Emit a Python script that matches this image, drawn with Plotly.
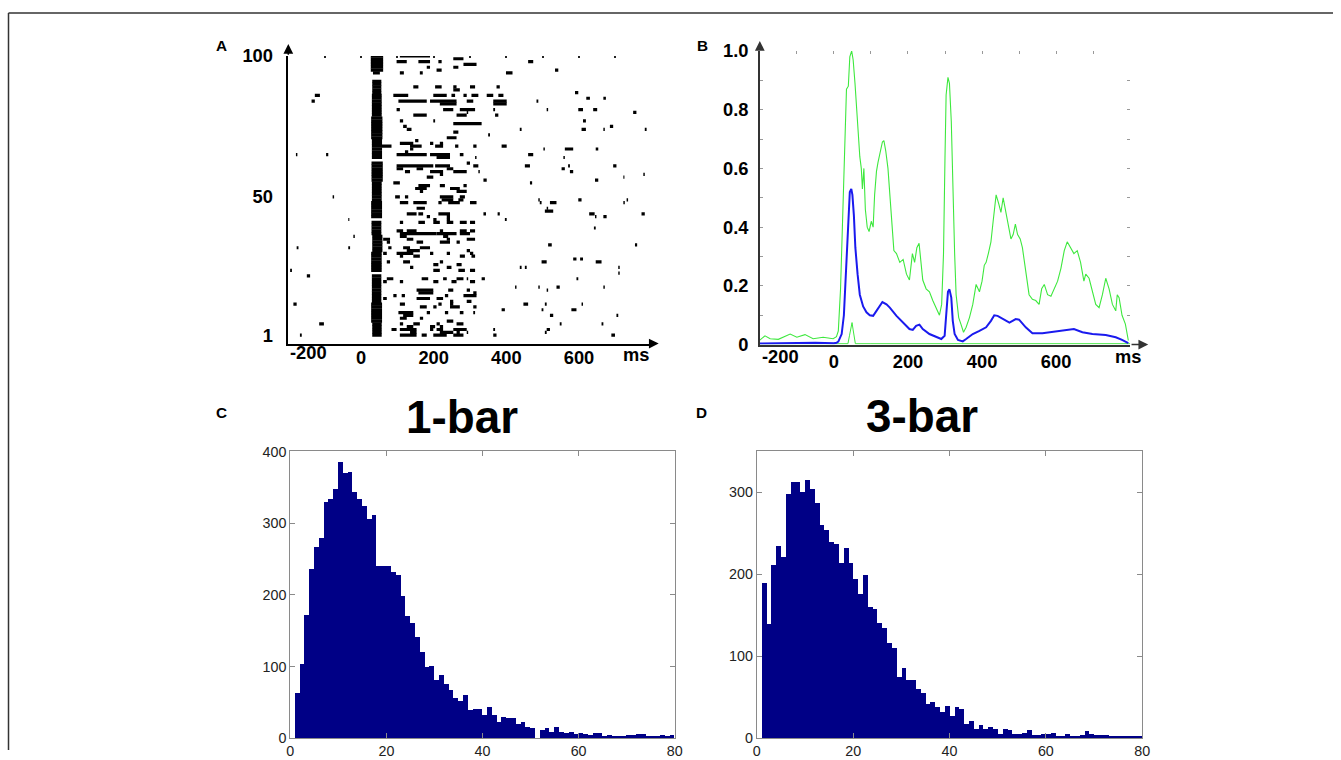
import plotly.graph_objects as go

# Figure size; the capture of the page is slightly offset/scaled, so positions below
# are written in target-picture pixels and converted with a small calibration.
W, H = 1341, 760
SX, OX = 0.990, 5.0
SY, OY = 0.9735, 9.0
FS = 1 / 0.982
def px(x):
    return ((x - OX) / SX) / W
def py(y):
    return 1 - ((y - OY) / SY) / H

# ---------------- Panel A: raster (trial, start ms, end ms) ----------------
early_blocks = [  # (first trial, last trial, start ms, end ms) of the dense early burst column
    (1, 5, 31, 57), (6, 12, 28, 58), (13, 22, 30, 56), (24, 30, 28, 57), (31, 36, 31, 59),
    (37, 41, 29, 56), (43, 48, 28, 58), (49, 55, 30, 57), (56, 62, 29, 60), (64, 70, 30, 58),
    (71, 78, 28, 59), (79, 86, 30, 57), (87, 91, 31, 56), (94, 94, 33, 52), (95, 100, 27, 61),
]
raster_segments = [
    (100, 107, 190), (99, 254, 282), (98, 98, 126), (98, 158, 190), (97, 282, 318), (98, 460, 474),
    (95, 534, 543), (96, 181, 190), (96, 254, 268), (94, 107, 118), (94, 399, 417), (95, 208, 222),
    (94, 162, 170), (98, 213, 222),
    (89, 144, 158), (89, 204, 222), (89, 254, 263), (89, 300, 314), (89, 373, 382),
    (88, 254, 272), (87, 589, 598),
    (86, 89, 130), (86, 199, 236), (86, 249, 259), (86, 282, 291), (86, 304, 323), (86, 346, 364),
    (86, 378, 392), (86, -127, -113),
    (85, 620, 630), (85, 667, 674),
    (84, -136, -127), (84, 103, 181), (84, 190, 263), (84, 291, 309), (84, 364, 401), (84, 483, 488),
    (83, 217, 263), (83, 364, 401),
    (81, 98, 107), (81, 226, 254), (81, 272, 314), (81, 364, 369), (81, 511, 515), (81, 598, 611),
    (81, 639, 650),
    (80, 749, 758), (80, 291, 295),
    (79, 144, 181), (79, 263, 291), (79, 369, 378),
    (77, 107, 116), (77, 199, 204), (77, 611, 619),
    (76, 254, 332),
    (75, 116, 126), (75, 685, 694),
    (74, 126, 139), (74, 437, 442), (74, 607, 619), (74, 667, 671), (74, 781, 786),
    (73, 254, 268), (72, 350, 355), (71, 236, 263), (70, 149, 158),
    (69, 107, 144), (69, 190, 199), (69, 217, 226),
    (68, 57, 84), (68, 135, 167), (68, 204, 226), (68, 259, 268), (68, 309, 318), (68, 387, 401),
    (67, 135, 144), (67, 502, 506), (67, 561, 584), (67, 646, 653),
    (66, 121, 130),
    (65, 98, 181), (65, 190, 245), (65, 272, 282), (65, -179, -175), (65, -96, -90), (65, 460, 474),
    (64, 208, 245), (64, 314, 318), (64, 557, 561),
    (62, 291, 300),
    (61, 98, 199), (61, 204, 245), (61, 309, 323), (61, 451, 465), (61, 570, 575), (61, 694, 703),
    (60, 98, 116), (60, 153, 171), (60, 236, 254), (60, 552, 561),
    (59, 121, 135), (59, 190, 226), (59, 254, 291), (59, 323, 327), (59, 575, 584),
    (58, 217, 226), (58, 777, 781),
    (57, 181, 199), (57, 722, 725),
    (56, 337, 346), (56, 644, 653),
    (55, 465, 471), (55, 89, 107),
    (54, 158, 190), (54, 217, 231), (54, 282, 291),
    (53, 149, 181), (53, 245, 272),
    (52, 162, 171), (52, 263, 291),
    (50, 94, 107), (50, 121, 130), (50, 217, 254), (50, 272, 286), (50, -78, -74),
    (49, 222, 254), (49, 268, 282), (49, 488, 492), (49, 598, 607), (49, 731, 735),
    (48, 107, 130), (48, 144, 181), (48, 213, 222), (48, 240, 272), (48, 300, 318), (48, 492, 497),
    (48, 520, 538), (48, 722, 726),
    (46, 153, 176), (46, 511, 515),
    (45, 506, 529),
    (44, 126, 153), (44, 158, 171), (44, 213, 245), (44, 337, 344), (44, 376, 382), (44, 628, 643),
    (44, 772, 781),
    (43, 644, 648), (43, 667, 676), (43, 181, 190), (43, 236, 245),
    (42, 199, 208), (42, 236, 245), (42, -35, -32), (42, 396, 401),
    (41, 107, 116), (41, 158, 176), (41, 199, 217), (41, 236, 254), (41, 272, 291), (41, 300, 314),
    (39, 641, 646),
    (38, 98, 116), (38, 126, 153), (38, 217, 226), (38, 272, 291), (38, 300, 314),
    (37, 107, 208), (37, 208, 263), (37, 272, 300),
    (36, -21, -17), (36, 107, 126), (36, 226, 240),
    (35, 61, 80), (35, 126, 144), (35, 236, 245), (35, 291, 314),
    (34, 71, 80), (34, 153, 171), (34, 217, 245), (34, 263, 272),
    (33, 515, 525), (33, 754, 760),
    (32, 75, 84), (32, 116, 135), (32, 162, 190), (32, -177, -172), (32, -35, -30),
    (31, 126, 162), (31, 291, 300),
    (30, 61, 71), (30, 98, 144), (30, 190, 199), (30, 236, 245), (30, 300, 309),
    (29, 107, 116), (29, 144, 162), (29, 272, 286), (29, 304, 314),
    (28, 584, 593), (28, 603, 611),
    (27, 71, 80), (27, 116, 135), (27, 217, 226), (27, 497, 511), (27, 646, 662),
    (26, 199, 213), (26, 263, 277),
    (25, 135, 144), (25, 236, 249), (25, 451, 456), (25, 437, 442), (25, 708, 712),
    (24, -195, -190), (24, 268, 286), (24, 300, 314), (24, 199, 217),
    (23, 708, 712), (22, -149, -140),
    (21, 71, 89), (21, 167, 185), (21, 226, 236), (21, 263, 282), (21, 332, 341), (21, 291, 295),
    (21, 593, 598),
    (20, 61, 71), (20, 107, 116), (20, 199, 213), (20, 249, 263), (20, 300, 314),
    (18, 424, 428), (18, 488, 492), (18, 538, 547), (18, 667, 671),
    (17, 153, 199), (17, 240, 254), (17, 291, 300), (17, 511, 515),
    (16, 158, 199), (16, 309, 318),
    (15, 89, 98), (15, 112, 121), (15, 231, 240), (15, 282, 318),
    (14, 61, 71), (14, 153, 190), (14, 208, 226),
    (13, 245, 254), (13, 291, 304),
    (12, -186, -177), (12, 107, 121), (12, 213, 222), (12, 245, 254), (12, 447, 460), (12, 506, 511),
    (12, 607, 611),
    (11, 162, 181), (11, 199, 208), (11, 245, 272), (11, 309, 318),
    (10, 387, 396), (10, 497, 502), (10, 579, 593),
    (9, 103, 144), (9, 181, 190), (9, 231, 240), (9, 272, 282), (9, 309, 314),
    (8, 116, 144), (8, 520, 529), (8, 703, 708),
    (7, 107, 126), (7, 162, 171),
    (6, 236, 254),
    (5, -115, -102), (5, 107, 116), (5, 144, 162), (5, 208, 217), (5, 263, 282), (5, 547, 552),
    (5, 662, 667),
    (4, 126, 144), (4, 190, 204), (4, 217, 226),
    (3, 84, 98), (3, 107, 153), (3, 190, 199), (3, 208, 226), (3, 254, 291), (3, 364, 369),
    (3, 511, 520),
    (2, 135, 153), (2, 217, 254), (2, 263, 272), (2, 291, 295), (2, 506, 511),
    (1, 107, 153), (1, 167, 181), (1, 199, 236), (1, 254, 282), (1, -168, -163), (1, 689, 699),
    (1, 364, 373),
]
a_yticks = [1, 50, 100]
a_xticks = [0, 200, 400, 600]
top_ticks_ms = [-100, 0, 100, 200, 300, 400, 500, 600, 700]

# ---------------- Panel B: response curves ----------------
blue_t = [-200, -150, -100, -50, 0, 7, 12, 21, 27, 32, 39, 43, 47, 50, 54, 58, 64, 70, 79, 88,
          97, 106, 115, 124, 131, 142, 151, 169, 187, 204, 213, 222, 231, 240, 258, 276, 290, 299,
          303, 308, 312, 317, 321, 326, 335, 348, 357, 375, 393, 411, 424, 433, 442, 456, 474, 491,
          500, 518, 536, 563, 599, 626, 648, 671, 698, 734, 761, 778, 795]
blue_v = [0.004, 0.005, 0.004, 0.006, 0.005, 0.006, 0.01, 0.036, 0.10, 0.22, 0.40, 0.52, 0.53, 0.51,
          0.44, 0.33, 0.24, 0.17, 0.13, 0.11, 0.10, 0.098, 0.115, 0.13, 0.145, 0.137, 0.126, 0.098,
          0.075, 0.053, 0.05, 0.064, 0.068, 0.053, 0.036, 0.025, 0.019, 0.03, 0.115, 0.18, 0.188,
          0.16, 0.081, 0.036, 0.016, 0.011, 0.019, 0.036, 0.047, 0.059, 0.081, 0.10, 0.098, 0.087,
          0.075, 0.087, 0.085, 0.059, 0.039, 0.039, 0.044, 0.05, 0.053, 0.042, 0.036, 0.033, 0.025,
          0.016, 0.005]
green_t = [-200, -186, -172, -150, -118, -100, -78, -56, -29, -2, 7, 12, 18, 23, 30, 34, 39, 43, 48,
           52, 57, 61, 65, 70, 74, 77, 81, 85, 90, 95, 101, 106, 110, 115, 119, 124, 131, 135, 140,
           146, 151, 157, 162, 169, 178, 187, 196, 204, 212, 218, 224, 230, 234, 240, 249, 258, 267,
           276, 285, 291, 296, 300, 303, 308, 312, 317, 321, 326, 330, 337, 343, 350, 357, 366, 375,
           384, 393, 400, 406, 411, 417, 424, 430, 438, 445, 451, 457, 463, 469, 478, 484, 490, 496,
           503, 509, 518, 527, 536, 545, 554, 561, 568, 577, 586, 595, 604, 613, 622, 630, 639, 648,
           657, 666, 675, 680, 689, 698, 707, 716, 725, 734, 743, 752, 761, 765, 770, 778, 787, 795]
green_v = [0.015, 0.03, 0.02, 0.018, 0.036, 0.025, 0.034, 0.02, 0.025, 0.02, 0.027, 0.047, 0.19, 0.42,
           0.70, 0.87, 0.88, 0.98, 1.0, 0.97, 0.89, 0.80, 0.72, 0.64, 0.60, 0.53, 0.60, 0.46, 0.40,
           0.385, 0.42, 0.40, 0.51, 0.59, 0.62, 0.655, 0.69, 0.695, 0.66, 0.60, 0.50, 0.40, 0.32, 0.31,
           0.28, 0.29, 0.24, 0.22, 0.31, 0.28, 0.33, 0.345, 0.29, 0.22, 0.19, 0.18, 0.15, 0.126, 0.10,
           0.137, 0.31, 0.64, 0.85, 0.91, 0.89, 0.76, 0.53, 0.31, 0.17, 0.092, 0.07, 0.042, 0.059,
           0.092, 0.137, 0.205, 0.18, 0.216, 0.27, 0.28, 0.31, 0.35, 0.42, 0.51, 0.48, 0.45, 0.50,
           0.46, 0.42, 0.36, 0.375, 0.41, 0.375, 0.36, 0.33, 0.25, 0.17, 0.154, 0.15, 0.137, 0.19,
           0.205, 0.17, 0.165, 0.19, 0.216, 0.26, 0.32, 0.35, 0.33, 0.31, 0.32, 0.28, 0.216, 0.24,
           0.226, 0.18, 0.137, 0.126, 0.17, 0.226, 0.19, 0.137, 0.115, 0.17, 0.16, 0.10, 0.07, 0.014]
green_low_t = [-200, 0, 38, 42, 46, 49, 52, 55, 58, 100, 800]
green_low_v = [0.003, 0.003, 0.003, 0.03, 0.065, 0.075, 0.05, 0.02, 0.003, 0.003, 0.003]
b_yticks = [0, 0.2, 0.4, 0.6, 0.8, 1.0]
b_yticktext = ["0", "0.2", "0.4", "0.6", "0.8", "1.0"]
b_minor = [0.1, 0.3, 0.5, 0.7, 0.9]
b_right = [0.1, 0.2, 0.3, 0.4, 0.5, 0.6, 0.7, 0.8, 0.9]

# ---------------- Panels C, D: histograms (bins of width 1 starting at 1) ----------------
hist_1bar = [63, 103, 171, 236, 266, 278, 329, 333, 347, 385,
             369, 371, 343, 333, 323, 305, 311, 240, 239, 239,
             231, 227, 198, 170, 160, 140, 120, 99, 100, 80,
             88, 75, 67, 56, 51, 60, 38, 40, 40, 32,
             43, 31, 22, 29, 27, 27, 19, 22, 15, 13,
             0, 11, 13, 8, 15, 8, 7, 8, 5, 6,
             5, 4, 6, 6, 1, 4, 3, 3, 3, 4,
             4, 5, 5, 1, 2, 2, 4, 2, 4]
hist_3bar = [189, 139, 211, 234, 220, 297, 312, 312, 300, 314,
             304, 286, 260, 254, 239, 236, 213, 231, 213, 194,
             176, 199, 160, 157, 140, 134, 116, 109, 74, 85,
             71, 71, 59, 55, 41, 43, 37, 31, 39, 26,
             37, 35, 17, 20, 10, 15, 11, 13, 10, 5,
             10, 9, 4, 4, 6, 9, 3, 3, 5, 4,
             6, 1, 1, 4, 1, 1, 3, 8, 4, 3,
             3, 3, 1, 1, 1, 2, 1, 2, 2]
bin_start = 1
hist_xticks = [0, 20, 40, 60, 80]

# ---------------- build raster line coordinates ----------------
rx, ry = [], []
for t0, t1, s, e in early_blocks:
    for tr in range(t0, t1 + 1):
        rx += [s, e, None]
        ry += [tr, tr, None]
for tr, s, e in raster_segments:
    rx += [s, e, None]
    ry += [tr, tr, None]

fig = go.Figure()
fig.add_trace(go.Scatter(x=rx, y=ry, mode="lines", line=dict(color="black", width=3.2),
                         xaxis="x", yaxis="y", hoverinfo="skip", showlegend=False))
fig.add_trace(go.Scatter(x=[None], y=[None], xaxis="x5", yaxis="y", showlegend=False))

fig.add_trace(go.Scatter(x=green_low_t, y=green_low_v, mode="lines", line=dict(color="#3ee83e", width=1),
                         xaxis="x2", yaxis="y2", showlegend=False))
fig.add_trace(go.Scatter(x=green_t, y=green_v, mode="lines", line=dict(color="#3ee83e", width=1.1),
                         xaxis="x2", yaxis="y2", showlegend=False))
fig.add_trace(go.Scatter(x=blue_t, y=blue_v, mode="lines", line=dict(color="#1a1aee", width=2),
                         xaxis="x2", yaxis="y2", showlegend=False))
fig.add_trace(go.Scatter(x=[None], y=[None], xaxis="x6", yaxis="y2", showlegend=False))
fig.add_trace(go.Scatter(x=[None], y=[None], xaxis="x2", yaxis="y5", showlegend=False))

centers1 = [bin_start + i + 0.5 for i in range(len(hist_1bar))]
centers3 = [bin_start + i + 0.5 for i in range(len(hist_3bar))]
fig.add_trace(go.Bar(x=centers1, y=hist_1bar, width=1, marker=dict(color="#000086", line=dict(width=0)),
                     xaxis="x3", yaxis="y3", showlegend=False))
fig.add_trace(go.Bar(x=centers3, y=hist_3bar, width=1, marker=dict(color="#000086", line=dict(width=0)),
                     xaxis="x4", yaxis="y4", showlegend=False))

FONT = "Liberation Sans, Arial, sans-serif"
bold18 = dict(family=FONT, size=round(18 * FS, 1), color="black", weight="bold")
small = dict(family=FONT, size=round(14 * FS, 1), color="#222")
noax = dict(showgrid=False, zeroline=False)

hist_ax = dict(showline=True, mirror="ticks", linecolor="#8a8a8a", linewidth=1, ticks="inside",
               ticklen=5, tickcolor="#8a8a8a", tickfont=small, **noax)

fig.update_layout(
    width=W, height=H, margin=dict(l=0, r=0, t=0, b=0),
    paper_bgcolor="white", plot_bgcolor="white", bargap=0, showlegend=False,
    xaxis=dict(domain=[px(289), px(652)], anchor="y", range=[-200, 800], showline=True,
               linecolor="black", linewidth=1.5, ticks="", tickvals=a_xticks, tickfont=bold18,
               ticklabelstandoff=-3, **noax),
    yaxis=dict(domain=[py(342), py(54)], anchor="x", range=[-2, 100], showline=True,
               linecolor="black", linewidth=1.5, ticks="", tickvals=a_yticks, tickfont=bold18,
               ticklabelstandoff=10, **noax),
    xaxis5=dict(overlaying="x", anchor="y", side="top", range=[-200, 800], tickvals=top_ticks_ms,
                ticks="inside", ticklen=2, tickwidth=1.5, tickcolor="#222", showticklabels=False,
                showline=False, **noax),
    xaxis2=dict(domain=[px(760), px(1130)], anchor="y2", range=[-200, 800], showline=True,
                linecolor="#333", linewidth=1.5, ticks="", tickvals=a_xticks, tickfont=bold18,
                ticklabelstandoff=0, **noax),
    yaxis2=dict(domain=[py(343), py(49)], anchor="x2", range=[0, 1], showline=True,
                linecolor="#333", linewidth=1.5, ticks="inside", ticklen=3, tickcolor="#999",
                tickvals=b_yticks, ticktext=b_yticktext, tickfont=bold18, ticklabelstandoff=6,
                minor=dict(tickvals=b_minor, ticks="inside", ticklen=3, tickcolor="#999"), **noax),
    xaxis6=dict(overlaying="x2", anchor="y2", side="top", range=[-200, 800], tickvals=top_ticks_ms,
                ticks="inside", ticklen=3, tickcolor="#999", showticklabels=False, showline=False, **noax),
    yaxis5=dict(overlaying="y2", anchor="x2", side="right", range=[0, 1], tickvals=b_right,
                ticks="inside", ticklen=3, tickcolor="#999", showticklabels=False, showline=False, **noax),
    xaxis3=dict(domain=[px(291), px(675)], anchor="y3", range=[0, 80], tickvals=hist_xticks, **hist_ax),
    yaxis3=dict(domain=[py(737), py(450)], anchor="x3", range=[0, 400], dtick=100, **hist_ax),
    xaxis4=dict(domain=[px(757), px(1142)], anchor="y4", range=[0, 80], tickvals=hist_xticks, **hist_ax),
    yaxis4=dict(domain=[py(737), py(450)], anchor="x4", range=[0, 350], tickvals=[0, 100, 200, 300], **hist_ax),
)

ann = []
def arrow(hx, hy, ax, ay, color):
    ann.append(dict(x=px(hx), y=py(hy), xref="paper", yref="paper", ax=ax / SX, ay=ay / SY, text="",
                    showarrow=True, arrowhead=2, arrowsize=1.3, arrowwidth=1.5, arrowcolor=color))
arrow(289, 42, 0, 12, "black")
arrow(659, 342, -8, 0, "black")
arrow(760, 39, 0, 10, "#333")
arrow(1148, 343, -18, 0, "#333")

letter = dict(family=FONT, size=round(15 * FS, 1), color="black", weight="bold")
for t, x, y in [("A", 222, 44), ("B", 703, 44), ("C", 222, 411), ("D", 702, 411)]:
    ann.append(dict(x=px(x), y=py(y), xref="paper", yref="paper", text=t, showarrow=False,
                    font=letter, xanchor="center", yanchor="middle"))
title = dict(family=FONT, size=round(45 * FS, 1), color="black", weight="bold")
ann.append(dict(x=px(463), y=py(416), xref="paper", yref="paper", text="1-bar", showarrow=False,
                font=title, xanchor="center", yanchor="middle"))
ann.append(dict(x=px(922), y=py(415), xref="paper", yref="paper", text="3-bar", showarrow=False,
                font=title, xanchor="center", yanchor="middle"))
# first x tick label and unit label
ann.append(dict(x=-200, y=py(351), xref="x", yref="paper", text="-200", showarrow=False,
                font=bold18, xanchor="left", yanchor="middle"))
ann.append(dict(x=-200, y=py(355), xref="x2", yref="paper", text="-200", showarrow=False,
                font=bold18, xanchor="left", yanchor="middle"))
ann.append(dict(x=px(651), y=py(353), xref="paper", yref="paper", text="ms", showarrow=False,
                font=bold18, xanchor="right", yanchor="middle"))
ann.append(dict(x=px(1143), y=py(355), xref="paper", yref="paper", text="ms", showarrow=False,
                font=bold18, xanchor="right", yanchor="middle"))
fig.update_layout(annotations=ann)

fig.update_layout(shapes=[
    dict(type="line", xref="paper", yref="paper", x0=px(9.5), x1=1, y0=py(11), y1=py(11),
         line=dict(color="#333", width=1.5)),
    dict(type="line", xref="paper", yref="paper", x0=px(9.5), x1=px(9.5), y0=py(11), y1=0,
         line=dict(color="#333", width=1.5)),
])

fig.write_html("out.html")
